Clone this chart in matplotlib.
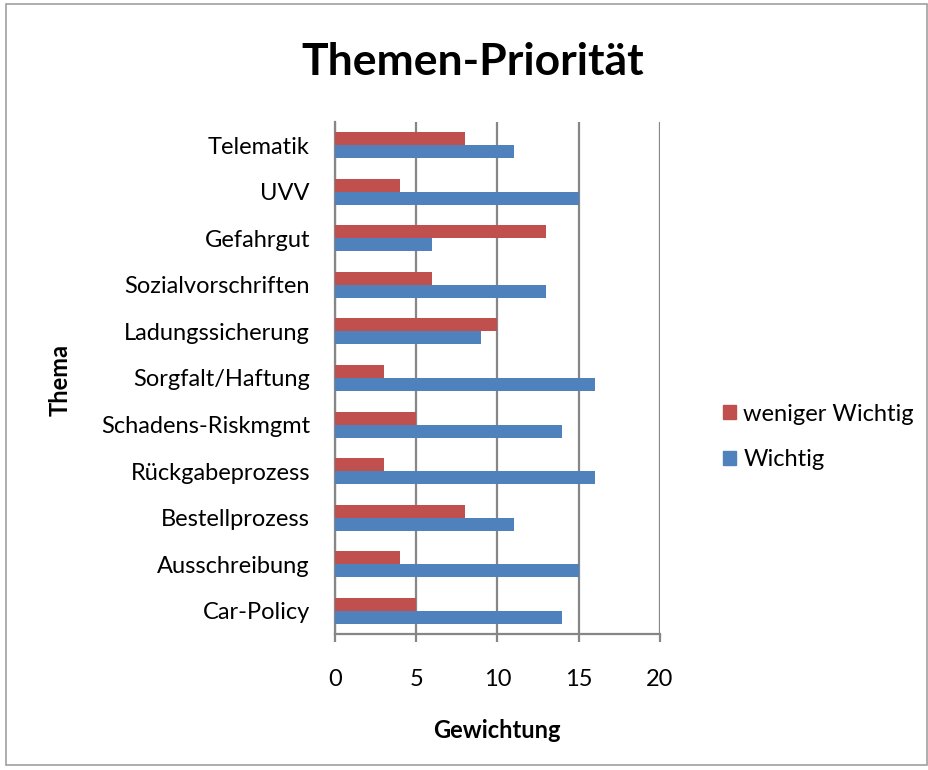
import numpy as np
import matplotlib
matplotlib.use("Agg")
import matplotlib.pyplot as plt
from matplotlib.patches import Rectangle, Patch

plt.rcParams['font.family'] = ['Lato', 'DejaVu Sans']

themen = ['Car-Policy', 'Ausschreibung', 'Bestellprozess', 'Rückgabeprozess',
          'Schadens-Riskmgmt', 'Sorgfalt/Haftung', 'Ladungssicherung',
          'Sozialvorschriften', 'Gefahrgut', 'UVV', 'Telematik']
wichtig = [14, 15, 11, 16, 14, 16, 9, 13, 6, 15, 11]
weniger_wichtig = [5, 4, 8, 3, 5, 3, 10, 6, 13, 4, 8]

blau = '#4F81BD'
rot = '#C0504D'
grau = '#868686'

fig = plt.figure(figsize=(9.29, 7.7), dpi=100)
ax = fig.add_axes([335/929, 136/770, 325/929, 512/770])

y = np.arange(len(themen))
h = 0.28
ax.barh(y - h/2, wichtig, height=h, color=blau, label='Wichtig', zorder=3)
ax.barh(y + h/2, weniger_wichtig, height=h, color=rot, label='weniger Wichtig', zorder=3)

ax.set_xlim(0, 20)
ax.set_ylim(-0.5, len(themen) - 0.5)
ax.set_xticks([0, 5, 10, 15, 20])
ax.set_yticks(y)
ax.set_yticklabels(themen)
ax.xaxis.grid(True, color=grau, linewidth=1.6, zorder=0)
ax.tick_params(axis='x', length=6, width=1.6, color=grau, pad=19, labelsize=17)
ax.tick_params(axis='y', length=0, pad=18, labelsize=17)
for s in ['top', 'right']:
    ax.spines[s].set_visible(False)
for s in ['left', 'bottom']:
    ax.spines[s].set_color(grau)
    ax.spines[s].set_linewidth(1.6)

# Achsentitel
fig.text(497/929, 1 - 730/770, 'Gewichtung', fontsize=17, fontweight='bold',
         ha='center', va='center')
fig.text(60/929, 1 - 380/770, 'Thema', fontsize=17, fontweight='bold',
         ha='center', va='center', rotation=90)
fig.text(473/929, 1 - 62/770, 'Themen-Priorität', fontsize=32, fontweight='bold',
         ha='center', va='center')

handles = [Patch(color=rot, label='weniger Wichtig'), Patch(color=blau, label='Wichtig')]
fig.legend(handles=handles, loc='center left', bbox_to_anchor=(702/929, 1 - 437/770),
           frameon=False, fontsize=17, handlelength=0.55, handleheight=0.55,
           handletextpad=0.3, labelspacing=1.05)

fig.patches.append(Rectangle((6/929, 5/770), 921/929, 761/770, transform=fig.transFigure,
                             fill=False, edgecolor='#A0A0A0', linewidth=1.2))

fig.savefig('out.png', dpi=100)
